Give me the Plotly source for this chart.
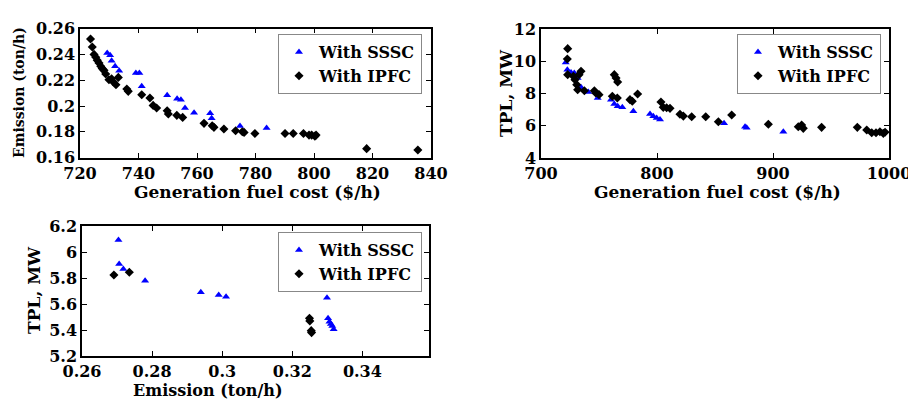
import plotly.graph_objects as go

# ---------------- data ----------------
# Panel 1: Generation fuel cost ($/h) vs Emission (ton/h)
p1_sssc_cost = [729.3, 730.3, 730.8, 732.0, 733.4, 739.1, 740.3, 741.1, 749.8, 753.2, 754.5,
                755.9, 759.0, 764.5, 765.0, 774.7, 783.8]
p1_sssc_em = [0.2411, 0.2393, 0.2351, 0.2308, 0.2274, 0.2256, 0.2256, 0.2153, 0.2083, 0.2057,
              0.2049, 0.1985, 0.1948, 0.1945, 0.1905, 0.1845, 0.1830]
p1_ipfc_cost = [723.6, 724.2, 724.8, 725.4, 725.9, 726.5, 727.1, 727.6, 728.2, 728.8, 729.9,
                730.8, 731.4, 732.3, 733.1, 736.0, 736.5, 741.1, 743.9, 745.0, 746.2, 749.8,
                750.2, 753.1, 755.1, 762.4, 765.2, 765.8, 769.2, 773.2, 775.5, 776.1, 779.8,
                790.1, 792.9, 796.4, 798.3, 799.2, 800.3, 800.7, 818.0, 835.5]
p1_ipfc_em = [0.2520, 0.2457, 0.2400, 0.2378, 0.2354, 0.2333, 0.2308, 0.2290, 0.2277, 0.2248,
              0.2204, 0.2212, 0.2186, 0.2165, 0.2222, 0.2132, 0.2114, 0.2088, 0.2062, 0.2005,
              0.1985, 0.1964, 0.1938, 0.1928, 0.1912, 0.1866, 0.1848, 0.1835, 0.1822, 0.1809,
              0.1801, 0.1796, 0.1788, 0.1788, 0.1788, 0.1788, 0.1775, 0.1775, 0.1767, 0.1775,
              0.1670, 0.1660]

# Panel 2: Generation fuel cost ($/h) vs TPL (MW)
p2_sssc_cost = [721.3, 722.7, 725.9, 728.7, 731.6, 734.5, 740.8, 748.9, 760.3, 763.2, 766.1,
                770.1, 779.6, 794.0, 796.8, 799.7, 802.6, 857.8, 875.9, 877.3, 908.9]
p2_sssc_tpl = [9.93, 9.48, 9.31, 9.27, 8.96, 8.38, 8.09, 7.72, 7.62, 7.35, 7.21,
               7.14, 6.90, 6.73, 6.59, 6.48, 6.38, 6.15, 5.94, 5.88, 5.63]
p2_ipfc_cost = [723.0, 722.7, 723.0, 727.9, 729.3, 730.8, 731.6, 732.8, 734.5, 737.4, 746.0,
                747.2, 750.0, 761.5, 763.2, 764.7, 766.1, 765.8, 776.7, 778.7, 783.3, 803.4,
                805.4, 808.3, 811.2, 819.8, 822.7, 829.9, 842.0, 852.9, 864.4, 896.0, 921.8,
                924.7, 926.1, 941.9, 972.7, 980.8, 985.1, 988.8, 992.2, 995.1, 996.6]
p2_ipfc_tpl = [10.78, 10.14, 9.17, 9.07, 8.86, 8.55, 8.24, 9.17, 9.38, 8.17, 8.17,
               8.03, 7.93, 7.83, 9.17, 8.96, 8.71, 7.72, 7.62, 7.52, 7.97, 7.47,
               7.14, 7.12, 7.08, 6.71, 6.60, 6.56, 6.56, 6.25, 6.67, 6.09, 5.94,
               6.05, 5.84, 5.90, 5.90, 5.74, 5.57, 5.57, 5.63, 5.53, 5.60]

# Panel 3: Emission (ton/h) vs TPL (MW)
p3_sssc_em = [0.2704, 0.2706, 0.2718, 0.2780, 0.2939, 0.2990, 0.3011, 0.3299, 0.3302, 0.3306,
              0.3310, 0.3314, 0.3318]
p3_sssc_tpl = [6.092, 5.908, 5.869, 5.779, 5.690, 5.669, 5.656, 5.649, 5.490, 5.464,
               5.446, 5.431, 5.405]
p3_ipfc_em = [0.2691, 0.2735, 0.3249, 0.3250, 0.3254, 0.3255]
p3_ipfc_tpl = [5.823, 5.844, 5.490, 5.470, 5.395, 5.380]

# tick labels
p1_xticks = [720, 740, 760, 780, 800, 820, 840]
p1_yticks = [0.16, 0.18, 0.2, 0.22, 0.24, 0.26]
p1_ytext = ["0.16", "0.18", "0.2", "0.22", "0.24", "0.26"]
p2_xticks = [700, 800, 900, 1000]
p2_yticks = [4, 6, 8, 10, 12]
p3_xticks = [0.26, 0.28, 0.3, 0.32, 0.34]
p3_xtext = ["0.26", "0.28", "0.3", "0.32", "0.34"]
p3_yticks = [5.2, 5.4, 5.6, 5.8, 6.0, 6.2]
p3_ytext = ["5.2", "5.4", "5.6", "5.8", "6", "6.2"]

series_names = ["With SSSC", "With IPFC"]

# ---------------- figure ----------------
FONT = "DejaVu Serif"
W, H = 916, 405
OX, OY = 8, 8   # page body margin offset
fig = go.Figure()

tri = dict(symbol="triangle-up", size=7, color="#0000ff")
dia = dict(symbol="diamond", size=7, color="#000000")

panels = [
    ("x", "y", "legend", p1_sssc_cost, p1_sssc_em, p1_ipfc_cost, p1_ipfc_em),
    ("x2", "y2", "legend2", p2_sssc_cost, p2_sssc_tpl, p2_ipfc_cost, p2_ipfc_tpl),
    ("x3", "y3", "legend3", p3_sssc_em, p3_sssc_tpl, p3_ipfc_em, p3_ipfc_tpl),
]
for xa, ya, lg, sx, sy, ix, iy in panels:
    fig.add_trace(go.Scatter(x=sx, y=sy, mode="markers", marker=tri, name=series_names[0],
                             xaxis=xa, yaxis=ya, legend=lg))
    fig.add_trace(go.Scatter(x=ix, y=iy, mode="markers", marker=dia, name=series_names[1],
                             xaxis=xa, yaxis=ya, legend=lg))

def fx(p):
    return (p - OX) / W

def fy(p):
    return 1 - (p - OY) / H

def px_dom(a, b):
    return [fx(a), fx(b)]

def py_dom(top, bottom):
    return [fy(bottom), fy(top)]

tickfont = dict(family=FONT, size=16, color="black", weight="bold")
axis_common = dict(showline=True, linecolor="black", linewidth=1.5, mirror="ticks",
                   ticks="inside", ticklen=5, tickwidth=1, tickcolor="black",
                   showgrid=False, zeroline=False, tickfont=tickfont, automargin=False)

fig.update_layout(
    template="none",
    width=W, height=H, margin=dict(l=0, r=0, t=0, b=0, pad=0),
    paper_bgcolor="white", plot_bgcolor="white",
    xaxis=dict(domain=px_dom(80, 431), range=[720, 840], tickvals=p1_xticks,
               anchor="y", **axis_common),
    yaxis=dict(domain=py_dom(28.6, 157.7), range=[0.16, 0.26], tickvals=p1_yticks,
               ticktext=p1_ytext, anchor="x", **axis_common),
    xaxis2=dict(domain=px_dom(541, 889), range=[700, 1000], tickvals=p2_xticks,
                anchor="y2", **axis_common),
    yaxis2=dict(domain=py_dom(29, 158), range=[4, 12], tickvals=p2_yticks,
                anchor="x2", **axis_common),
    xaxis3=dict(domain=px_dom(82, 429), range=[0.26, 0.359], tickvals=p3_xticks,
                ticktext=p3_xtext, anchor="y3", **axis_common),
    yaxis3=dict(domain=py_dom(226, 356), range=[5.2, 6.2], tickvals=p3_yticks,
                ticktext=p3_ytext, anchor="x3", **axis_common),
)

legfont = dict(family=FONT, size=16, color="black", weight="bold")
leg_common = dict(font=legfont, bgcolor="white", bordercolor="#888888", borderwidth=1,
                  xanchor="left", yanchor="top", tracegroupgap=0, itemsizing="trace")
fig.update_layout(
    legend=dict(x=fx(278), y=fy(34), **leg_common),
    legend2=dict(x=fx(737), y=fy(34), **leg_common),
    legend3=dict(x=fx(278), y=fy(232), **leg_common),
)

titles = [
    ("Generation fuel cost ($/h)", 257, 192, 0, 17),
    ("Emission (ton/h)", 19, 93, -90, 14),
    ("Generation fuel cost ($/h)", 717, 192, 0, 17),
    ("TPL, MW", 506, 93, -90, 17),
    ("Emission (ton/h)", 207, 390, 0, 16),
    ("TPL, MW", 34, 290, -90, 17),
]
for text, cx, cy, ang, fs in titles:
    fig.add_annotation(text=text, x=fx(cx), y=fy(cy), xref="paper", yref="paper",
                       showarrow=False, textangle=ang,
                       font=dict(family=FONT, size=fs, color="black", weight="bold"),
                       xanchor="center", yanchor="middle")

fig.write_html("out.html")
